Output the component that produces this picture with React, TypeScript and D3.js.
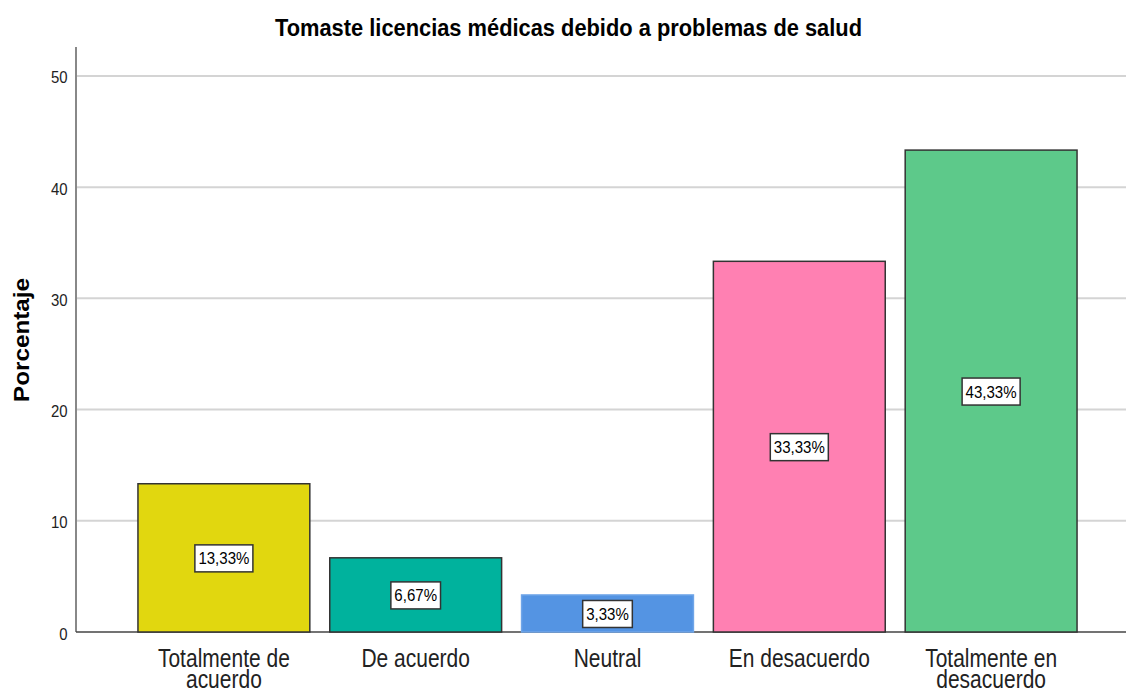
import React from "react";
import * as d3 from "d3";

const categories = [
  ["Totalmente de", "acuerdo"],
  ["De acuerdo"],
  ["Neutral"],
  ["En desacuerdo"],
  ["Totalmente en", "desacuerdo"],
];
const values = [13.33, 6.67, 3.33, 33.33, 43.33];
const labels = ["13,33%", "6,67%", "3,33%", "33,33%", "43,33%"];
const colors = ["#E1D70F", "#00B29D", "#5494E3", "#FF80B2", "#5DC98A"];
const strokes = ["#333", "#333", "#6FA5E8", "#333", "#333"];
const yTicks = [0, 10, 20, 30, 40, 50];
const title = "Tomaste licencias médicas debido a problemas de salud";
const yTitle = "Porcentaje";

function labelWidth(s: string, size: number) {
  let em = 0;
  for (const c of s) em += c === "," ? 0.278 : c === "%" ? 0.889 : 0.556;
  return em * size * 0.885;
}

export default function App() {
  const W = 1126, H = 691;
  const x0 = 76, y0 = 632, yTop = 47;
  const x = d3.scaleBand<number>()
    .domain(d3.range(values.length))
    .range([x0, 1139])
    .paddingInner(0.104)
    .paddingOuter(0.323);
  const y = d3.scaleLinear().domain([0, 52.6]).range([y0, yTop]);
  const font = "'Liberation Sans', Arial, sans-serif";
  return (
    <svg width={W} height={H} style={{ position: "absolute", left: 0, top: 0, background: "#fff" }} fontFamily={font}>
      <rect x={0} y={0} width={W} height={H} fill="#fff" />
      <text x={568.5} y={36} textAnchor="middle" fontSize={23} fontWeight="bold" fill="#000" textLength={587} lengthAdjust="spacingAndGlyphs">{title}</text>
      {yTicks.map((t) => (
        <g key={t}>
          {t > 0 && <line x1={x0} x2={W} y1={y(t)} y2={y(t)} stroke="#d4d4d4" strokeWidth={2} />}
          <text x={67.5} y={y(t) + 7.5} textAnchor="end" fontSize={16} fill="#222" textLength={t === 0 ? 8.3 : 16.6} lengthAdjust="spacingAndGlyphs">{t}</text>
        </g>
      ))}
      <line x1={x0} x2={x0} y1={yTop} y2={y0} stroke="#888" strokeWidth={2} />
      <line x1={x0} x2={W} y1={y0} y2={y0} stroke="#444" strokeWidth={1.5} />
      <text transform={`translate(29,340) rotate(-90)`} textAnchor="middle" fontSize={22} fontWeight="bold" fill="#000" textLength={124} lengthAdjust="spacingAndGlyphs">{yTitle}</text>
      {values.map((v, i) => {
        const bx = x(i)!;
        const bw = x.bandwidth();
        const cy = y(v / 2);
        const cx = bx + bw / 2;
        const tw = labelWidth(labels[i], 17);
        const lw = tw + 7;
        return (
          <g key={i}>
            <rect x={bx} y={y(v)} width={bw} height={y0 - y(v)} fill={colors[i]} stroke={strokes[i]} strokeWidth={1.5} />
            <rect x={cx - lw / 2} y={cy - 13} width={lw} height={27} fill="#fff" stroke="#333" strokeWidth={1.5} />
            <text x={cx} y={cy + 6.5} textAnchor="middle" fontSize={17} fill="#000" textLength={tw} lengthAdjust="spacingAndGlyphs">{labels[i]}</text>
            {categories[i].map((line, j) => (
              <text key={j} transform={`translate(${cx},${666.5 + j * 21.5}) scale(0.84,1)`} textAnchor="middle" fontSize={25} fill="#222">{line}</text>
            ))}
          </g>
        );
      })}
    </svg>
  );
}
